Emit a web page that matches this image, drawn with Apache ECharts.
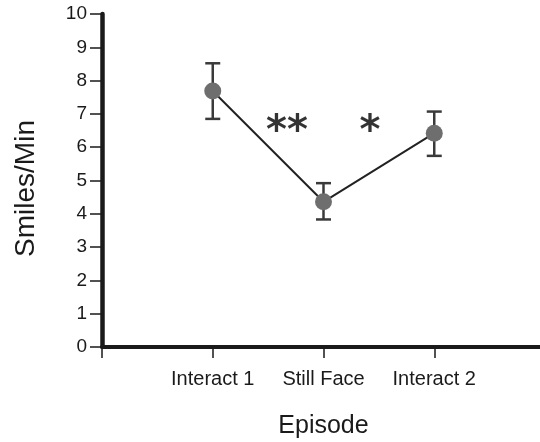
<!DOCTYPE html>
<html>
<head>
<meta charset="utf-8">
<script src="https://cdn.jsdelivr.net/npm/echarts@6/dist/echarts.min.js"></script>
<style>html,body{margin:0;padding:0;background:#fff;}#c{width:540px;height:442px;}</style>
</head>
<body>
<div id="c"></div>
<script>
const categories = ['Interact 1', 'Still Face', 'Interact 2'];
const means = [7.69, 4.36, 6.42];
const errLow = [6.85, 3.83, 5.74];
const errHigh = [8.52, 4.92, 7.07];
const yTicks = [0, 1, 2, 3, 4, 5, 6, 7, 8, 9, 10];
const annotations = [[1.67, 6.67, '**'], [2.42, 6.67, '*']];

const FONT = 'Liberation Sans, Arial, sans-serif';
const INK = '#1a1a1a';

const chart = echarts.init(document.getElementById('c'), null, {renderer: 'canvas'});
const pts = means.map((m, i) => [i + 1, m]);
const errData = categories.map((c, i) => [i + 1, errLow[i], errHigh[i]]);

chart.setOption({
  animation: false,
  backgroundColor: '#fff',
  grid: {left: 102, width: 443, top: 14, bottom: 95, containLabel: false, outerBoundsMode: 'none'},
  xAxis: {
    type: 'value', min: 0, max: 4, interval: 1,
    name: 'Episode', nameLocation: 'middle', nameGap: 67,
    nameTextStyle: {fontFamily: FONT, fontSize: 25, color: INK},
    axisLine: {show: true, onZero: false, lineStyle: {color: INK, width: 4}},
    axisTick: {show: true, length: 11, lineStyle: {color: INK, width: 1.5}},
    axisLabel: {margin: 22, fontFamily: FONT, fontSize: 20, color: INK,
      formatter: v => categories[v - 1] || ''},
    splitLine: {show: false}
  },
  yAxis: {
    type: 'value', min: yTicks[0], max: yTicks[yTicks.length - 1], interval: 1,
    name: 'Smiles/Min', nameLocation: 'middle', nameGap: 62, nameRotate: 90,
    nameTextStyle: {fontFamily: FONT, fontSize: 28, color: INK, padding: [0, 16, 0, 0]},
    axisLine: {show: true, onZero: false, lineStyle: {color: INK, width: 4.5}},
    axisTick: {show: true, length: 12, lineStyle: {color: INK, width: 1.5}},
    axisLabel: {margin: 15, fontFamily: FONT, fontSize: 19, color: INK},
    splitLine: {show: false}
  },
  series: [
    {
      type: 'custom', z: 1,
      data: errData,
      renderItem: function (params, api) {
        const x = api.value(0);
        const lo = api.coord([x, api.value(1)]);
        const hi = api.coord([x, api.value(2)]);
        const hw = 7.5;
        const style = {stroke: '#3a3a3a', lineWidth: 2.5};
        return {type: 'group', children: [
          {type: 'line', shape: {x1: lo[0], y1: lo[1], x2: hi[0], y2: hi[1]}, style},
          {type: 'line', shape: {x1: lo[0] - hw, y1: lo[1], x2: lo[0] + hw, y2: lo[1]}, style},
          {type: 'line', shape: {x1: hi[0] - hw, y1: hi[1], x2: hi[0] + hw, y2: hi[1]}, style}
        ]};
      }
    },
    {
      type: 'line', z: 2,
      data: pts,
      symbol: 'circle', symbolSize: 17,
      lineStyle: {color: '#222', width: 2},
      itemStyle: {color: '#6e6e6e', borderWidth: 0}
    },
    {
      type: 'scatter', z: 3,
      data: annotations,
      symbolSize: 0,
      label: {show: true, position: 'inside', formatter: p => p.data[2],
        fontFamily: 'DejaVu Sans', fontWeight: 'bold', fontSize: 40, color: '#000', offset: [0, 8]}
    }
  ]
});
</script>
</body>
</html>
